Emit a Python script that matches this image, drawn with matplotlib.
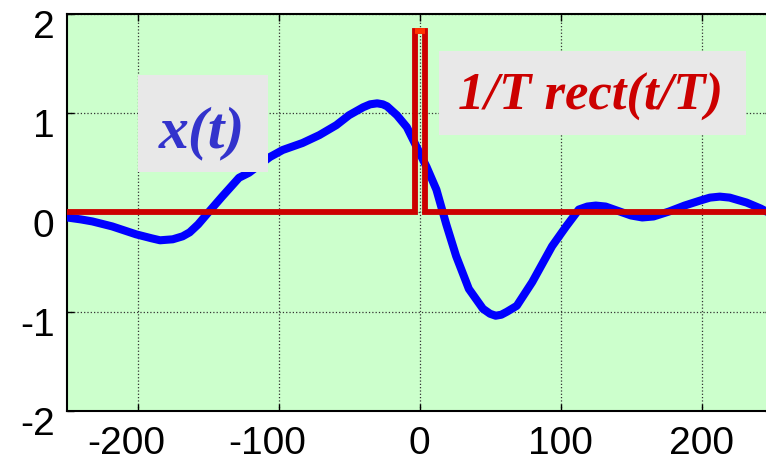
import numpy as np
import matplotlib
matplotlib.use("Agg")
import matplotlib.pyplot as plt
import matplotlib.transforms as mtransforms
from matplotlib.patches import Rectangle

# blue signal x(t)
t_sig = [-250, -240, -232, -218, -201, -190, -184, -175, -168, -163, -157, -151,
         -140, -128, -121, -106, -97, -83, -71, -59, -50, -40, -35, -30, -26,
         -23, -16, -9, -2, 5, 12, 19, 26, 35, 45, 50, 54, 58, 62, 69, 80, 94,
         104, 113, 119, 125, 132, 140, 150, 158, 166, 177, 188, 199, 206, 213,
         220, 232, 242, 250]
x_sig = [-0.05, -0.07, -0.09, -0.14, -0.22, -0.26, -0.28, -0.27, -0.24, -0.20,
         -0.12, -0.02, 0.16, 0.35, 0.40, 0.56, 0.63, 0.70, 0.78, 0.88, 0.98,
         1.06, 1.09, 1.10, 1.09, 1.07, 0.98, 0.86, 0.66, 0.46, 0.23, -0.12,
         -0.44, -0.77, -0.97, -1.02, -1.04, -1.03, -1.00, -0.94, -0.70, -0.34,
         -0.14, 0.03, 0.06, 0.07, 0.06, 0.02, -0.03, -0.05, -0.04, 0.01, 0.07,
         0.12, 0.15, 0.16, 0.15, 0.10, 0.04, -0.02]

# rectangular pulse 1/T rect(t/T)
t_rect = [-250, -3.5, -3.5, 4, 4, 250]
y_rect = [0, 0, 1.83, 1.83, 0, 0]
t_top = [-3.5, 4]
y_top = [1.83, 1.83]

x_ticks = [-200, -100, 0, 100, 200]
y_ticks = [-2, -1, 0, 1, 2]

plt.rcParams['font.family'] = ['Liberation Sans', 'DejaVu Sans']
plt.rcParams['axes.unicode_minus'] = False

fig = plt.figure(figsize=(7.66, 4.61), dpi=100)
ax = fig.add_axes([67 / 766, 50 / 461, 705 / 766, 397 / 461])
ax.set_facecolor('#ccffcc')

ax.plot(t_sig, x_sig, color='#0000ff', lw=5.8, solid_capstyle='round',
        solid_joinstyle='round', zorder=3)
ax.plot(t_rect, y_rect, color='#cc0000', lw=4.2, solid_joinstyle='miter', zorder=4)
ax.plot(t_top, y_top, color='#ff3300', lw=4.2, solid_capstyle='butt', zorder=5)

ax.set_xlim(-250, 250)
ax.set_ylim(-2, 2)
ax.set_xticks(x_ticks)
ax.set_yticks(y_ticks)
ax.set_xticklabels([str(v) for v in x_ticks])
ax.set_yticklabels([str(v) for v in y_ticks])
ax.grid(True, color='#333333', linestyle=':', linewidth=0.9, zorder=1)
ax.set_axisbelow(True)
ax.tick_params(axis='both', direction='in', length=5, width=1, labelsize=28,
               top=True, right=True)
ax.tick_params(axis='x', pad=11)
ax.tick_params(axis='y', pad=9)
for sp in ax.spines.values():
    sp.set_linewidth(1.5)

# y labels sit a bit below their gridlines, negative x labels a bit left
down = mtransforms.ScaledTranslation(0, -10 / 100, fig.dpi_scale_trans)
for lab in ax.get_yticklabels():
    lab.set_transform(lab.get_transform() + down)
left = mtransforms.ScaledTranslation(-11 / 100, 0, fig.dpi_scale_trans)
for v, lab in zip(x_ticks, ax.get_xticklabels()):
    if v < 0:
        lab.set_transform(lab.get_transform() + left)

# text labels on grey boxes
ax.add_patch(Rectangle((0.101, 0.602), 0.184, 0.244, transform=ax.transAxes,
                       facecolor='#e8e8e8', edgecolor='none', zorder=6))
ax.text(0.191, 0.665, 'x(t)', transform=ax.transAxes, ha='center', va='baseline',
        fontsize=43, fontweight='bold', fontstyle='italic', color='#3333cc',
        family=['Liberation Serif', 'DejaVu Serif'], zorder=7)

ax.add_patch(Rectangle((0.528, 0.695), 0.435, 0.212, transform=ax.transAxes,
                       facecolor='#e8e8e8', edgecolor='none', zorder=6))
ax.text(0.7426, 0.758, '1/T rect(t/T)', transform=ax.transAxes, ha='center',
        va='baseline', fontsize=38, fontweight='bold', fontstyle='italic',
        color='#cc0000', family=['Liberation Serif', 'DejaVu Serif'], zorder=7)

fig.savefig('out.png', dpi=100)
